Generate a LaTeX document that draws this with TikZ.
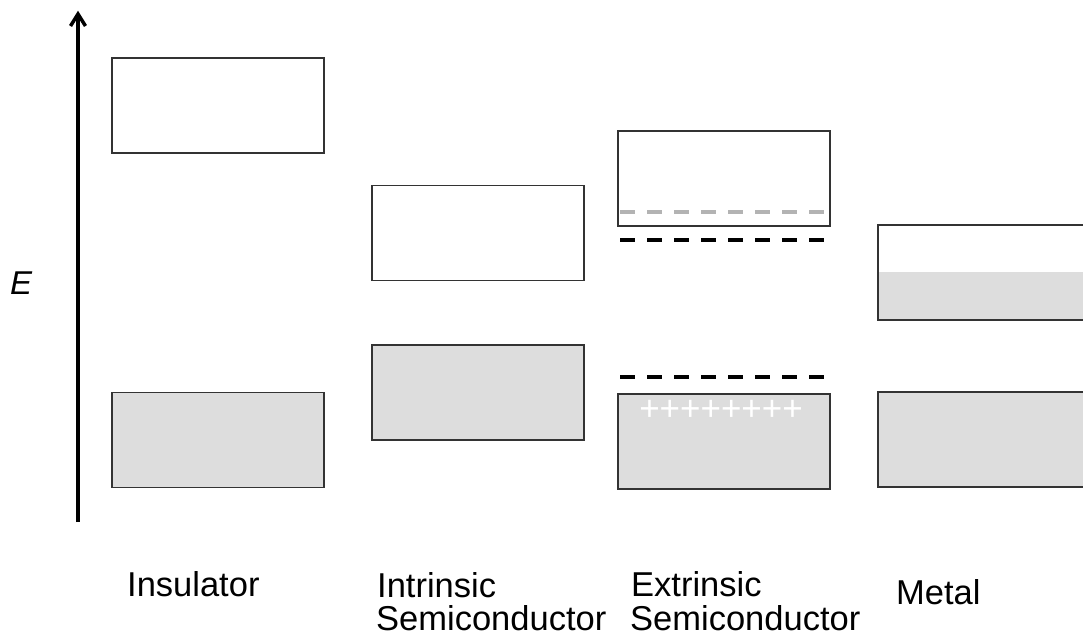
\documentclass[tikz,border=0pt]{standalone}
\usepackage{fontspec}
\setmainfont{Liberation Sans}
\usetikzlibrary{arrows.meta}
\definecolor{bandfill}{HTML}{DDDDDD}
\definecolor{bandline}{HTML}{333333}
\definecolor{lightdash}{HTML}{B3B3B3}
\begin{document}
\begin{tikzpicture}[x=1pt,y=-1pt,
  band/.style={draw=bandline, line width=1.5pt, rectangle, inner sep=0pt,
    minimum width=212pt, minimum height=95pt},
  emptyband/.style={band, fill=white},
  fullband/.style={band, fill=bandfill},
  lvl/.style={line width=4pt, dash pattern=on 15pt off 12pt},
  axisline/.style={line width=3.5pt},
  lbl/.style={anchor=base west, inner sep=0pt, font=\fontsize{34.5}{36}\selectfont}
]
\useasboundingbox (0,0) rectangle (1083,638);
\clip (0,0) rectangle (1083,638);

% energy axis
\coordinate (abot) at (78,522);
\coordinate (atop) at (78,14);
\draw[axisline] (abot) -- (atop);
\draw[axisline, line join=miter, line cap=butt] ([shift={(-7.5,12)}]atop) -- (atop) -- ([shift={(7.5,12)}]atop);
\node[lbl, font=\fontsize{33}{36}\selectfont\itshape] (elbl) at (10,294) {E};

% insulator
\node[emptyband] (inscb) at (218,105.5) {};
\node[fullband] (insvb) at (218,440) {};

% intrinsic semiconductor
\node[emptyband] (intcb) at (478,233) {};
\node[fullband] (intvb) at (478,392.5) {};

% extrinsic semiconductor
\node[emptyband] (extcb) at (724,178.5) {};
\node[fullband] (extvb) at (724,441.5) {};
\draw[lvl, lightdash] (620,212) -- (830,212);
\draw[lvl, black] (620,240) -- (830,240);
\draw[lvl, black] (620,377) -- (830,377);
\node[anchor=base, inner sep=0pt, text=white, font=\fontsize{35}{36}\selectfont] (plus) at (721,420) {++++++++};

% metal
\fill[bandfill] (878,272) rectangle (1130,320);
\node[band, minimum width=252pt] (metcb) at (1004,272.5) {};
\node[fullband, minimum width=252pt] (metvb) at (1004,439.5) {};

% labels
\node[lbl] (l1) at (127,596) {Insulator};
\node[lbl] (l2a) at (377,597) {Intrinsic};
\node[lbl] (l2b) at (376,630) {Semiconductor};
\node[lbl] (l3a) at (631,596) {Extrinsic};
\node[lbl] (l3b) at (630,630) {Semiconductor};
\node[lbl] (l4) at (896,604) {Metal};
\end{tikzpicture}
\end{document}
